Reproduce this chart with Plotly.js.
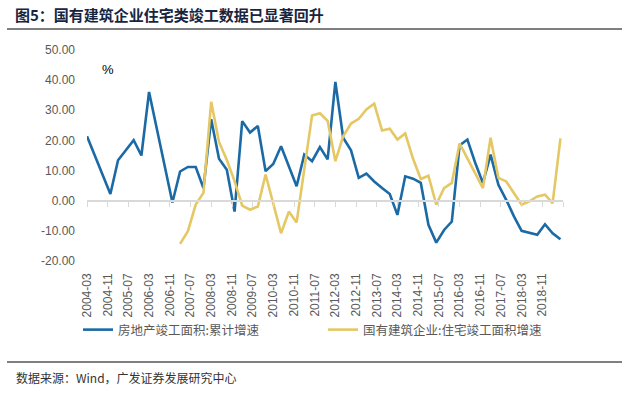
<!DOCTYPE html>
<html>
<head>
<meta charset="utf-8">
<script src="https://cdn.plot.ly/plotly-3.0.1.min.js"></script>
<style>
html,body{margin:0;padding:0;background:#fff;}
#chart{width:631px;height:393px;}
</style>
</head>
<body>
<div id="chart"></div>
<script>
// ---- data ----
const titleText = "图5：国有建筑企业住宅类竣工数据已显著回升";
const sourceText = "数据来源：Wind，广发证券发展研究中心";
const seriesNames = ["房地产竣工面积:累计增速", "国有建筑企业:住宅竣工面积增速"];

const blueDates = ["2004-03","2004-12","2005-03","2005-09","2005-12","2006-03","2006-12",
  "2007-03","2007-06","2007-09","2007-12","2008-03","2008-06","2008-09","2008-12",
  "2009-03","2009-06","2009-09","2009-12","2010-03","2010-06","2010-09","2010-12",
  "2011-03","2011-06","2011-09","2011-12","2012-03","2012-06","2012-09","2012-12",
  "2013-03","2013-06","2013-09","2013-12","2014-03","2014-06","2014-09","2014-12",
  "2015-03","2015-06","2015-09","2015-12","2016-03","2016-06","2016-09","2016-12",
  "2017-03","2017-06","2017-09","2017-12","2018-03","2018-06","2018-09","2018-12",
  "2019-03","2019-06"];
const blueValues = [21.4,2.2,13.4,20.1,15.0,36.1,-0.6,
  9.7,11.2,11.2,4.2,27.0,13.9,10.3,-3.6,
  26.4,22.6,24.8,9.8,12.2,18.1,11.1,4.8,
  15.3,13.1,17.8,13.7,39.4,20.9,16.7,7.6,
  9.0,6.4,4.2,2.2,-4.7,8.1,7.3,5.9,
  -8.0,-13.9,-9.7,-6.9,18.3,20.3,12.6,5.9,
  15.3,5.3,0.3,-5.2,-10.0,-10.6,-11.3,-7.8,
  -10.8,-12.8];

const yellowDates = ["2007-03","2007-06","2007-09","2007-12","2008-03","2008-06","2008-09","2008-12",
  "2009-03","2009-06","2009-09","2009-12","2010-06","2010-09","2010-12",
  "2011-06","2011-09","2011-12","2012-03","2012-06","2012-09","2012-12",
  "2013-03","2013-06","2013-09","2013-12","2014-03","2014-06","2014-09","2014-12",
  "2015-03","2015-06","2015-09","2015-12","2016-03","2016-12",
  "2017-03","2017-06","2017-09","2017-12","2018-03","2018-06","2018-09","2018-12",
  "2019-03","2019-06"];
const yellowValues = [-14.3,-10.1,-1.3,2.6,32.8,19.5,13.5,6.5,
  -1.6,-3.0,-1.9,8.7,-10.8,-3.6,-7.2,
  28.3,29.0,26.5,13.1,21.4,25.6,27.2,
  30.3,32.2,23.3,23.9,20.3,22.3,13.9,7.2,
  8.3,-1.3,4.2,5.9,19.0,4.2,
  20.9,7.6,6.4,2.6,-1.3,-0.2,1.4,2.0,
  -0.8,20.7];

const xTickLabels = ["2004-03","2004-11","2005-07","2006-03","2006-11","2007-07","2008-03",
  "2008-11","2009-07","2010-03","2010-11","2011-07","2012-03","2012-11","2013-07",
  "2014-03","2014-11","2015-07","2016-03","2016-11","2017-07","2018-03","2018-11"];
const xTickMarks = xTickLabels.concat(["2019-07"]);
const yTickVals = [-20,-10,0,10,20,30,40,50];
const yTickText = ["-20.00","-10.00","0.00","10.00","20.00","30.00","40.00","50.00"];
const xRange = ["2004-03-01","2019-07-01"];
const yRange = [-20,50];

// ---- drawing ----
const toDate = s => s + "-01";
const blueColor = "#1b6aa6";
const yellowColor = "#e5c764";
const tickFont = {family:"Liberation Sans, Arial, sans-serif", size:12, color:"#595959"};
const cjk = "Noto Sans CJK SC, sans-serif";

const traces = [
  {x: blueDates.map(toDate), y: blueValues, type:"scatter", mode:"lines",
   name: seriesNames[0], line:{color:blueColor, width:2.6}, legend:"legend"},
  {x: yellowDates.map(toDate), y: yellowValues, type:"scatter", mode:"lines",
   name: seriesNames[1], line:{color:yellowColor, width:2.6}, legend:"legend2"},
  {x: blueDates.map(toDate), y: blueValues, type:"scatter", mode:"lines", xaxis:"x2",
   line:{color:"rgba(0,0,0,0)", width:0}, showlegend:false, hoverinfo:"skip"}
];

const L = 87, R = 68, T = 50, B = 132;
const plotW = 631 - L - R, plotH = 393 - T - B;
const px = p => (p - L) / plotW;
const py = p => (393 - B - p) / plotH;
const zeroPos = (0 - yRange[0]) / (yRange[1] - yRange[0]);

const layout = {
  width:631, height:393,
  margin:{l:L, r:R, t:T, b:B},
  paper_bgcolor:"#ffffff", plot_bgcolor:"#ffffff",
  showlegend:true,
  title:{text:"<b>"+titleText+"</b>", x:15/631, xref:"container", xanchor:"left",
         y:1-16/393, yref:"container", yanchor:"middle",
         font:{family:cjk, size:15, color:"#172540"}},
  xaxis:{type:"date", range:xRange.slice(), tickvals:xTickMarks.slice(0,-1).map(toDate),
         ticktext:xTickLabels, tickangle:-90, tickfont:tickFont, showgrid:false,
         showline:false, zeroline:false, ticks:"", ticklabelstandoff:9, fixedrange:true},
  xaxis2:{type:"date", overlaying:"x", anchor:"free", position:zeroPos, range:xRange.slice(),
          tickvals:xTickMarks.map(toDate), showticklabels:false, showgrid:false,
          showline:true, linecolor:"#d9d9d9", linewidth:2, ticks:"outside", ticklen:5,
          tickwidth:1, tickcolor:"#d9d9d9", zeroline:false},
  yaxis:{range:yRange, tickvals:yTickVals, ticktext:yTickText, tickfont:tickFont,
         showgrid:false, zeroline:false, showline:false, ticks:"", ticklabelstandoff:11},
  legend:{orientation:"h", x:px(78), xanchor:"left", y:py(330), yanchor:"middle",
          font:{family:cjk, size:12.5, color:"#595959"}, bgcolor:"rgba(0,0,0,0)"},
  legend2:{orientation:"h", x:px(323), xanchor:"left", y:py(330), yanchor:"middle",
          font:{family:cjk, size:12.5, color:"#595959"}, bgcolor:"rgba(0,0,0,0)"},
  annotations:[
    {text:"%", xref:"paper", yref:"paper", x:px(100), y:py(60), showarrow:false,
     font:{family:"Liberation Sans, Arial, sans-serif", size:13, color:"#000"}},
    {text:sourceText, xref:"paper", yref:"paper", x:px(14), y:py(377), xanchor:"left",
     yanchor:"middle", showarrow:false, font:{family:cjk, size:12, color:"#333333"}}
  ],
  shapes:[
    {type:"line", xref:"paper", yref:"paper", x0:px(7), x1:px(622), y0:py(29), y1:py(29),
     line:{color:"#000", width:1.2}},
    {type:"line", xref:"paper", yref:"paper", x0:px(7), x1:px(622), y0:py(362), y1:py(362),
     line:{color:"#000", width:1.2}}
  ]
};

Plotly.newPlot("chart", traces, layout, {displayModeBar:false, staticPlot:true});
</script>
</body>
</html>
